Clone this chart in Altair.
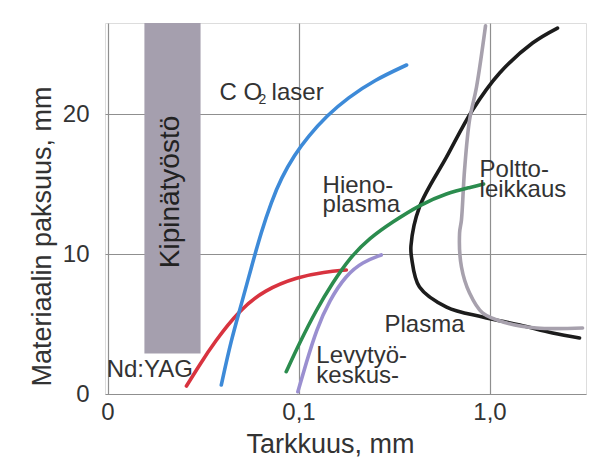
import altair as alt
import pandas as pd

# ---- data (x: Tarkkuus, mm on a log axis; y: Materiaalin paksuus, mm) ----
yag_x = [0.0259, 0.0303, 0.0363, 0.0491, 0.0664, 0.0988, 0.137, 0.178]
yag_y = [0.57, 2.07, 3.71, 6.0, 7.43, 8.36, 8.71, 8.86]

co2_x = [0.0394, 0.0444, 0.0501, 0.0565, 0.0638, 0.0720, 0.0812, 0.0953,
         0.1115, 0.142, 0.1806, 0.250, 0.368]
co2_y = [0.64, 3.86, 6.36, 9.0, 11.57, 13.71, 15.43, 17.07,
         18.36, 19.93, 21.14, 22.43, 23.5]

hieno_x = [0.0862, 0.1012, 0.1238, 0.1507, 0.185, 0.2354, 0.3105, 0.430, 0.596, 0.815, 0.931]
hieno_y = [1.59, 3.64, 6.0, 7.93, 9.71, 11.14, 12.29, 13.5, 14.36, 14.79, 15.0]

levy_x = [0.0992, 0.1097, 0.1238, 0.1453, 0.1778, 0.2163, 0.271]
levy_y = [0.16, 2.21, 4.57, 6.71, 8.5, 9.43, 9.93]

plasma_x = [2.96, 2.14, 1.44, 0.919, 0.596, 0.43, 0.391, 0.388, 0.43, 0.596, 0.815, 1.13, 1.68, 2.27]
plasma_y = [4.0, 4.36, 4.93, 5.5, 6.21, 7.64, 9.71, 10.6, 13.36, 16.93, 20.29, 22.93, 25.07, 26.14]

poltto_x = [0.953, 0.855, 0.786, 0.74, 0.713, 0.697, 0.713, 0.786, 0.919, 1.23, 1.76, 3.07]
poltto_y = [26.3, 21.93, 19.57, 16.0, 12.43, 11.5, 9.07, 7.21, 5.79, 5.07, 4.71, 4.71]

# Kipinätyöstö band
band_x = [0.0156, 0.0307]
band_y = [2.9, 26.5]

# annotations
labels = ["C O", "2", "laser", "Hieno-", "plasma", "Poltto-", "leikkaus",
          "Plasma", "Levytyö-", "keskus-", "Nd:YAG"]
label_x = [0.0386, 0.0618, 0.0723, 0.1337, 0.1337, 0.887, 0.887,
           0.282, 0.124, 0.124, 0.0099]
label_y = [21.0, 20.75, 21.0, 14.36, 13.0, 15.5, 14.07,
           4.43, 2.21, 0.79, 1.21]
label_size = [24, 14, 24, 24, 24, 24, 24, 24, 24, 24, 24]

series_names = ["Nd:YAG", "CO2", "Hieno", "Levy", "Plasma", "Poltto"]
series_colors = ["#d8333f", "#3d8ad8", "#2b8c4e", "#9a8fd0", "#1c1c1c", "#a7a1ad"]
series_data = [(yag_x, yag_y), (co2_x, co2_y), (hieno_x, hieno_y),
               (levy_x, levy_y), (plasma_x, plasma_y), (poltto_x, poltto_y)]

rows = []
for name, (xs, ys) in zip(series_names, series_data):
    for i, (a, b) in enumerate(zip(xs, ys)):
        rows.append({"s": name, "i": i, "x": a, "y": b})
lines_df = pd.DataFrame(rows)
mono_df = lines_df[lines_df["s"].isin(series_names[:4])]
curl_df = lines_df[lines_df["s"].isin(series_names[4:])]

band_df = pd.DataFrame({"x": [band_x[0]], "x2": [band_x[1]],
                        "y": [band_y[0]], "y2": [band_y[1]]})
text_df = pd.DataFrame({"t": labels, "x": label_x, "y": label_y, "sz": label_size})
kip_df = pd.DataFrame({"t": ["Kipinätyöstö"], "x": [0.0214], "y": [14.43]})

FONT = "Liberation Sans"

xscale = alt.Scale(type="log", domain=[0.0097, 3.2], nice=False)
yscale = alt.Scale(domain=[0, 26.5], nice=False, zero=False)
cscale = alt.Scale(domain=series_names, range=series_colors)

xaxis = alt.Axis(
    values=[0.01, 0.1, 1.0],
    labelExpr="datum.value < 0.05 ? '0' : (datum.value < 0.5 ? '0,1' : '1,0')",
    title="Tarkkuus, mm", titleX=225, titleY=58, titleBaseline="alphabetic",
    titleFontSize=27, titleFontWeight="normal",
    labelFontSize=24, labelPadding=6, ticks=False, tickSize=0, domain=False,
    grid=True, gridColor="#8f8f8f", gridWidth=1.2,
    labelColor="#333333", titleColor="#333333", labelFont=FONT, titleFont=FONT,
)
yaxis = alt.Axis(
    values=[0, 10, 20],
    title="Materiaalin paksuus, mm", titleX=-55, titleY=213, titleBaseline="alphabetic",
    titleAngle=270, titleAlign="center",
    titleFontSize=27, titleFontWeight="normal",
    labelFontSize=24, labelPadding=16, ticks=False, tickSize=0, domain=False,
    grid=True, gridColor="#8f8f8f", gridWidth=1.2,
    labelColor="#333333", titleColor="#333333", labelFont=FONT, titleFont=FONT,
)

band = alt.Chart(band_df).mark_rect(color="#a59fae").encode(
    x=alt.X("x:Q", scale=xscale, axis=xaxis),
    x2="x2:Q",
    y=alt.Y("y:Q", scale=yscale, axis=yaxis),
    y2="y2:Q",
)

lines_mono = alt.Chart(mono_df).mark_line(strokeWidth=3.6, interpolate="basis",
                                          strokeCap="round").encode(
    x=alt.X("x:Q", scale=xscale),
    y=alt.Y("y:Q", scale=yscale),
    color=alt.Color("s:N", scale=cscale, legend=None),
    order="i:Q",
    detail="s:N",
)

lines_curl = alt.Chart(curl_df).mark_line(strokeWidth=3.6, interpolate="catmull-rom",
                                          strokeCap="round").encode(
    x=alt.X("x:Q", scale=xscale),
    y=alt.Y("y:Q", scale=yscale),
    color=alt.Color("s:N", scale=cscale, legend=None),
    order="i:Q",
    detail="s:N",
)

texts = alt.Chart(text_df).mark_text(align="left", baseline="alphabetic",
                                     font=FONT, color="#333333").encode(
    x=alt.X("x:Q", scale=xscale),
    y=alt.Y("y:Q", scale=yscale),
    text="t:N",
    size=alt.Size("sz:Q", scale=None),
)

kip = alt.Chart(kip_df).mark_text(align="center", baseline="middle", angle=270,
                                  font=FONT, fontSize=28, color="#222222").encode(
    x=alt.X("x:Q", scale=xscale),
    y=alt.Y("y:Q", scale=yscale),
    text="t:N",
)

chart = alt.layer(band, lines_curl, lines_mono, texts, kip).properties(
    width=481, height=371,
    autosize=alt.AutoSizeParams(type="none"),
    padding={"left": 97, "top": 15, "right": 11, "bottom": 70},
).configure_view(stroke="#505050", strokeWidth=2).configure(background="white")

chart.save("out.html", embed_options={"renderer": "svg", "actions": False})
